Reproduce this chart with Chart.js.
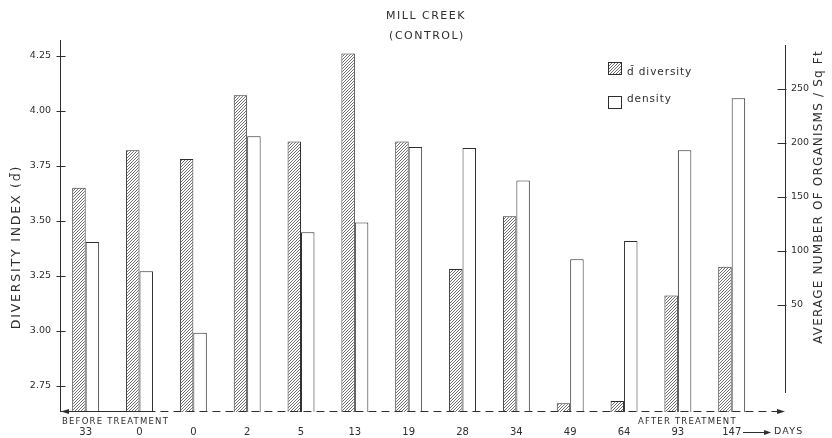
<!DOCTYPE html>
<html>
<head>
<meta charset="utf-8">
<script src="https://cdn.jsdelivr.net/npm/chart.js@4.4.1/dist/chart.umd.min.js"></script>
<style>
  html, body { margin: 0; padding: 0; background: #fff; }
  #wrap { width: 832px; height: 438px; }
</style>
</head>
<body>
<div id="wrap"><canvas id="c" width="832" height="438"></canvas></div>
<script>
// Sampling stations: days before / after treatment
const days = ['33', '0', '0', '2', '5', '13', '19', '28', '34', '49', '64', '93', '147'];
// Mean diversity index (d-bar), left axis
const diversity = [3.65, 3.82, 3.78, 4.07, 3.86, 4.26, 3.86, 3.28, 3.52, 2.67, 2.68, 3.16, 3.29];
// Average number of organisms per square foot, right axis
const density = [108, 81, 24, 206, 117, 126, 196, 195, 165, 92, 109, 193, 241];
// Tick labels
const diversityTicks = [2.75, 3.00, 3.25, 3.50, 3.75, 4.00, 4.25];
const densityTicks = [50, 100, 150, 200, 250];

// Axis ranges
const Y_MIN = 2.6305, Y_MAX = 4.321;
const Y2_MIN = -49.4, Y2_MAX = 295;
const X_MIN = -0.477, X_MAX = 12.99;

const INK = '#2e2e2e';
const FONT = '"DejaVu Sans", sans-serif';

const canvas = document.getElementById('c');
const ctx0 = canvas.getContext('2d');

// Diagonal hatch fill for the diversity bars
function makeHatch() {
  const t = document.createElement('canvas');
  t.width = 6; t.height = 6;
  const g = t.getContext('2d');
  g.fillStyle = '#fff';
  g.fillRect(0, 0, 6, 6);
  g.strokeStyle = '#555';
  g.lineWidth = 0.85;
  for (let k = -6; k <= 6; k += 3) {
    g.beginPath();
    g.moveTo(k, 6);
    g.lineTo(k + 6, 0);
    g.stroke();
  }
  return ctx0.createPattern(t, 'repeat');
}
const hatch = makeHatch();

function line(ctx, x1, y1, x2, y2) {
  ctx.beginPath();
  ctx.moveTo(x1, y1);
  ctx.lineTo(x2, y2);
  ctx.stroke();
}

function text(ctx, str, x, y, font, spacing, align, baseline) {
  ctx.font = font;
  ctx.letterSpacing = spacing || '0px';
  ctx.textAlign = align || 'left';
  ctx.textBaseline = baseline || 'middle';
  ctx.fillText(str, x, y);
}

// Axis lines, baseline, titles and legend
const decorations = {
  id: 'decorations',
  afterDraw(chart) {
    const { ctx, chartArea: a, scales } = chart;
    const { x, y } = scales;
    ctx.save();
    ctx.strokeStyle = INK;
    ctx.fillStyle = INK;
    ctx.lineWidth = 1;

    // left axis with tick marks
    const lx = a.left + 0.5;
    line(ctx, lx, a.top, lx, a.bottom);
    y.ticks.forEach(t => {
      const py = Math.round(y.getPixelForValue(t.value)) + 0.5;
      line(ctx, lx - 4, py, lx + 5, py);
    });

    // right axis with tick marks
    const rx = a.right + 0.5;
    line(ctx, rx, a.top + 5, rx, a.bottom - 19);
    scales.y2.ticks.forEach(t => {
      const py = Math.round(scales.y2.getPixelForValue(t.value)) + 0.5;
      line(ctx, rx - 8, py, rx + 1, py);
    });

    // baseline: solid under "before treatment", dashed afterwards
    const by = a.bottom - 0.5;
    const split = (x.getPixelForValue(1) + x.getPixelForValue(2)) / 2 - 11;
    line(ctx, a.left, by, split, by);
    ctx.setLineDash([8, 5]);
    line(ctx, split + 5, by, a.right - 6, by);
    ctx.setLineDash([]);
    // arrowheads
    ctx.beginPath();
    ctx.moveTo(a.left + 1, by);
    ctx.lineTo(a.left + 9, by - 2.5);
    ctx.lineTo(a.left + 9, by + 2.5);
    ctx.closePath();
    ctx.fill();
    ctx.beginPath();
    ctx.moveTo(a.right, by);
    ctx.lineTo(a.right - 8, by - 2.5);
    ctx.lineTo(a.right - 8, by + 2.5);
    ctx.closePath();
    ctx.fill();

    // title
    text(ctx, 'MILL CREEK', 426, 16, '11px ' + FONT, '1.5px', 'center');
    text(ctx, '(CONTROL)', 427, 36, '11px ' + FONT, '1.5px', 'center');

    // axis titles
    ctx.save();
    ctx.translate(17, 247);
    ctx.rotate(-Math.PI / 2);
    text(ctx, 'DIVERSITY INDEX (d\u0304)', 0, 0, '12.5px ' + FONT, '1.8px', 'center');
    ctx.restore();
    ctx.save();
    ctx.translate(819, 197);
    ctx.rotate(-Math.PI / 2);
    text(ctx, 'AVERAGE NUMBER OF ORGANISMS / Sq Ft', 0, 0, '12px ' + FONT, '1.2px', 'center');
    ctx.restore();

    // legend
    ctx.fillStyle = hatch;
    ctx.fillRect(608.5, 62.5, 13, 12);
    ctx.strokeRect(608.5, 62.5, 13, 12);
    ctx.fillStyle = '#fff';
    ctx.fillRect(608.5, 96.5, 13, 12);
    ctx.strokeRect(608.5, 96.5, 13, 12);
    ctx.fillStyle = INK;
    text(ctx, 'd\u0304 diversity', 627, 75, '10.5px ' + FONT, '0.9px', 'left', 'alphabetic');
    text(ctx, 'density', 627, 102, '10.5px ' + FONT, '0.9px', 'left', 'alphabetic');

    // treatment period labels
    text(ctx, 'BEFORE TREATMENT', 62, 422, '8.5px ' + FONT, '1.2px', 'left');
    text(ctx, 'AFTER TREATMENT', 638, 422, '8.5px ' + FONT, '1.2px', 'left');

    // days arrow
    const ay = 432.5;
    line(ctx, 743, ay, 766, ay);
    ctx.beginPath();
    ctx.moveTo(771, ay);
    ctx.lineTo(764, ay - 2.5);
    ctx.lineTo(764, ay + 2.5);
    ctx.closePath();
    ctx.fill();
    text(ctx, 'DAYS', 774, 432, '9.5px ' + FONT, '1.2px', 'left');

    ctx.restore();
  }
};

new Chart(canvas, {
  type: 'bar',
  data: {
    datasets: [
      {
        label: 'd\u0304 diversity',
        data: diversity.map((v, i) => ({ x: i, y: v })),
        yAxisID: 'y',
        backgroundColor: hatch,
        borderColor: INK,
        borderWidth: 1,
        categoryPercentage: 0.5,
        barPercentage: 1.0
      },
      {
        label: 'density',
        data: density.map((v, i) => ({ x: i, y: v })),
        yAxisID: 'y2',
        base: Y2_MIN,
        backgroundColor: '#fff',
        borderColor: INK,
        borderWidth: 1,
        categoryPercentage: 0.5,
        barPercentage: 1.0
      }
    ]
  },
  options: {
    responsive: false,
    animation: false,
    devicePixelRatio: 1,
    layout: { padding: { top: 40, left: 0, right: 0, bottom: 0 } },
    plugins: {
      legend: { display: false },
      title: { display: false },
      tooltip: { enabled: false }
    },
    scales: {
      x: {
        type: 'linear',
        min: X_MIN,
        max: X_MAX,
        offset: false,
        grid: { display: false, drawTicks: false },
        border: { display: false },
        afterBuildTicks: s => { s.ticks = days.map((d, i) => ({ value: i })); },
        afterFit: s => { s.height = 26; },
        ticks: {
          autoSkip: false,
          maxRotation: 0,
          padding: 14,
          color: INK,
          font: { family: FONT, size: 10 },
          callback: v => days[v]
        }
      },
      y: {
        position: 'left',
        min: Y_MIN,
        max: Y_MAX,
        grid: { display: false, drawTicks: false },
        border: { display: false },
        afterBuildTicks: s => { s.ticks = diversityTicks.map(v => ({ value: v })); },
        afterFit: s => { s.width = 60; },
        ticks: {
          padding: 9,
          color: INK,
          font: { family: FONT, size: 9.5 },
          callback: v => Number(v).toFixed(2)
        }
      },
      y2: {
        position: 'right',
        min: Y2_MIN,
        max: Y2_MAX,
        grid: { display: false, drawTicks: false },
        border: { display: false },
        afterBuildTicks: s => { s.ticks = densityTicks.map(v => ({ value: v })); },
        afterFit: s => { s.width = 47; },
        ticks: {
          padding: 6,
          color: INK,
          font: { family: FONT, size: 9.5 },
          callback: v => String(v)
        }
      }
    }
  },
  plugins: [decorations]
});
</script>
</body>
</html>
